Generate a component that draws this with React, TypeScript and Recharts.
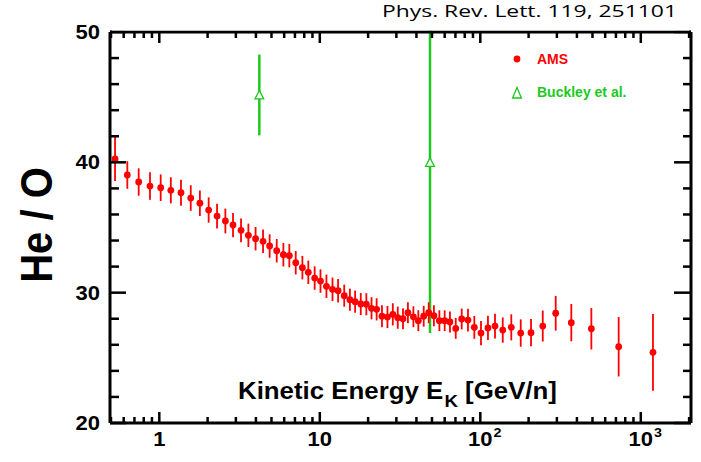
import React from "react";
import {
  ScatterChart,
  Scatter,
  XAxis,
  YAxis,
  ErrorBar,
  Customized,
} from "recharts";

// AMS He/O ratio vs kinetic energy per nucleon
const AMS_ENERGY = [
  0.53, 0.632, 0.744, 0.875, 1.02, 1.18, 1.365, 1.57, 1.79, 2.03, 2.29, 2.58,
  2.88, 3.23, 3.59, 3.98, 4.43, 4.87, 5.39, 5.93, 6.46, 7.08, 7.79, 8.48, 9.29,
  10.1, 11.0, 12.0, 13.0, 14.2, 15.4, 16.6, 18.0, 19.5, 21.0, 22.6, 24.4, 26.4,
  28.5, 30.6, 33.0, 35.4, 38.3, 41.1, 44.4, 47.7, 51.4, 55.6, 60.0, 64.7, 70.3,
  76.6, 83.8, 91.8, 101, 111.6, 123.5, 138, 156, 178.6, 207, 245, 295, 369, 492,
  728, 1191,
];
const AMS_RATIO = [
  40.26, 39.03, 38.49, 38.18, 38.05, 37.85, 37.67, 37.26, 36.86, 36.34, 35.88,
  35.5, 35.19, 34.78, 34.4, 34.14, 33.94, 33.58, 33.22, 32.91, 32.84, 32.3,
  31.92, 31.56, 31.12, 30.89, 30.49, 30.26, 30.15, 29.77, 29.46, 29.31, 29.13,
  29.11, 28.8, 28.72, 28.19, 28.13, 28.34, 28.08, 28.0, 28.46, 28.15, 27.85,
  28.19, 28.46, 28.23, 27.85, 27.85, 27.75, 27.26, 27.98, 27.9, 27.34, 26.9,
  27.29, 27.44, 27.13, 27.34, 26.9, 26.93, 27.44, 28.42, 27.7, 27.23, 25.85,
  25.42,
];
const AMS_ERR = [
  1.69, 1.06, 1.05, 1.06, 1.02, 1.0, 1.0, 0.98, 0.98, 0.97, 0.95, 0.95, 0.93,
  0.91, 0.9, 0.9, 0.9, 0.9, 0.9, 0.9, 0.9, 0.9, 0.9, 0.9, 0.9, 0.9, 0.9, 0.9,
  0.9, 0.85, 0.85, 0.85, 0.85, 0.85, 0.85, 0.85, 0.85, 0.85, 0.85, 0.85, 0.8,
  0.8, 0.8, 0.8, 0.8, 0.8, 0.8, 0.8, 0.8, 0.8, 0.8, 0.8, 0.87, 0.88, 0.93, 0.93,
  0.95, 0.97, 1.0, 1.05, 1.05, 1.19, 1.33, 1.43, 1.59, 2.28, 2.95,
];

// Buckley et al.
const BUCKLEY_ENERGY = [4.2, 48.6];
const BUCKLEY_RATIO = [45.17, 40.0];
const BUCKLEY_ERR = [3.1, 13.1];

const X_DOMAIN = [0.493, 2055];
const X_MAJOR = [1, 10, 100, 1000];
const X_MAJOR_LABELS = [
  { base: "1", exp: "" },
  { base: "10", exp: "" },
  { base: "10", exp: "2" },
  { base: "10", exp: "3" },
];
const X_TICKS = [
  0.5, 0.6, 0.7, 0.8, 0.9, 1, 2, 3, 4, 5, 6, 7, 8, 9, 10, 20, 30, 40, 50, 60,
  70, 80, 90, 100, 200, 300, 400, 500, 600, 700, 800, 900, 1000, 2000,
];
const Y_DOMAIN = [20, 50];
const Y_TICKS = [20, 22, 24, 26, 28, 30, 32, 34, 36, 38, 40, 42, 44, 46, 48, 50];
const Y_MAJOR = [20, 30, 40, 50];

const W = 701;
const H = 462;
const P = { left: 110, right: 691, top: 32, bottom: 423 };
const FONT = '"Liberation Sans", Arial, Helvetica, sans-serif';
const RED = "#ff0000";
const GREEN = "#1ec81e";

const amsData = AMS_ENERGY.map((e, i) => ({ x: e, y: AMS_RATIO[i], err: AMS_ERR[i] }));
const buckleyData = BUCKLEY_ENERGY.map((e, i) => ({ x: e, y: BUCKLEY_RATIO[i], err: BUCKLEY_ERR[i] }));

function XTickBottom(props: any) {
  const { x, payload } = props;
  const idx = X_MAJOR.indexOf(payload.value);
  const len = idx >= 0 ? 11 : 6;
  return (
    <g>
      <line x1={x} x2={x} y1={P.bottom} y2={P.bottom - len} stroke="#000" strokeWidth={2.5} />
      {idx >= 0 && (
        <g transform={`translate(${x},446) scale(1.1,1)`}>
          <text x={0} y={0} textAnchor="middle" fontFamily={FONT} fontWeight="bold" fontSize={20} fill="#000">
            {X_MAJOR_LABELS[idx].base}
          </text>
          {X_MAJOR_LABELS[idx].exp && (
            <text x={12} y={-9} textAnchor="start" fontFamily={FONT} fontWeight="bold" fontSize={13} fill="#000">
              {X_MAJOR_LABELS[idx].exp}
            </text>
          )}
        </g>
      )}
    </g>
  );
}

function XTickTop(props: any) {
  const { x, payload } = props;
  const len = X_MAJOR.includes(payload.value) ? 11 : 6;
  return <line x1={x} x2={x} y1={P.top} y2={P.top + len} stroke="#000" strokeWidth={2.5} />;
}

function YTickLeft(props: any) {
  const { y, payload } = props;
  const major = Y_MAJOR.includes(payload.value);
  return (
    <g>
      <line x1={P.left} x2={P.left + (major ? 16 : 9)} y1={y} y2={y} stroke="#000" strokeWidth={2.5} />
      {major && (
        <text
          transform={`translate(100,${y + 7}) scale(1.1,1)`}
          textAnchor="end"
          fontFamily={FONT}
          fontWeight="bold"
          fontSize={20}
          fill="#000"
        >
          {payload.value}
        </text>
      )}
    </g>
  );
}

function YTickRight(props: any) {
  const { y, payload } = props;
  const major = Y_MAJOR.includes(payload.value);
  return <line x1={P.right} x2={P.right - (major ? 17 : 8)} y1={y} y2={y} stroke="#000" strokeWidth={2.5} />;
}

function Overlay() {
  return (
    <g>
      <text
        transform="translate(52,225) rotate(-90) scale(1,1.1)"
        textAnchor="middle"
        fontFamily={FONT}
        fontWeight="bold"
        fontSize={40}
        fill="#000"
      >
        He / O
      </text>
      <text
        transform="translate(238,399) scale(1.1,1)"
        fontFamily={FONT}
        fontWeight="bold"
        fontSize={23.5}
        fill="#000"
      >
        <tspan>Kinetic Energy E</tspan>
        <tspan dx={1} dy={8} fontSize={17}>K</tspan>
        <tspan dy={-8}> [GeV/n]</tspan>
      </text>
      <circle cx={517} cy={59} r={3.4} fill={RED} />
      <text x={537} y={64} fontFamily={FONT} fontWeight="bold" fontSize={14} fill={RED}>
        AMS
      </text>
      <polygon points="517,87.5 512.6,98 521.4,98" fill="#fff" stroke={GREEN} strokeWidth={1.3} />
      <text x={537} y={97} fontFamily={FONT} fontWeight="bold" fontSize={14} fill={GREEN}>
        Buckley et al.
      </text>
    </g>
  );
}

export default function App() {
  const frame = { stroke: "#000", strokeWidth: 3 };
  return (
    <div style={{ position: "absolute", left: 0, top: 0, width: W, height: H, background: "#fff" }}>
      <ScatterChart width={W} height={H} margin={{ top: 0, right: 0, bottom: 0, left: 0 }}>
        <XAxis
          xAxisId="bottom"
          dataKey="x"
          type="number"
          scale="log"
          domain={X_DOMAIN}
          allowDataOverflow
          ticks={X_TICKS}
          interval={0}
          tick={(p: any) => <XTickBottom {...p} />}
          tickLine={false}
          axisLine={frame}
          height={H - P.bottom}
        />
        <XAxis
          xAxisId="top"
          orientation="top"
          dataKey="x"
          type="number"
          scale="log"
          domain={X_DOMAIN}
          allowDataOverflow
          ticks={X_TICKS}
          interval={0}
          tick={(p: any) => <XTickTop {...p} />}
          tickLine={false}
          axisLine={frame}
          height={P.top}
        />
        <YAxis
          yAxisId="left"
          dataKey="y"
          type="number"
          domain={Y_DOMAIN}
          allowDataOverflow
          ticks={Y_TICKS}
          interval={0}
          tick={(p: any) => <YTickLeft {...p} />}
          tickLine={false}
          axisLine={frame}
          width={P.left}
        />
        <YAxis
          yAxisId="right"
          orientation="right"
          dataKey="y"
          type="number"
          domain={Y_DOMAIN}
          allowDataOverflow
          ticks={Y_TICKS}
          interval={0}
          tick={(p: any) => <YTickRight {...p} />}
          tickLine={false}
          axisLine={frame}
          width={W - P.right}
        />
        <Scatter
          name="Buckley et al."
          data={buckleyData}
          xAxisId="bottom"
          yAxisId="left"
          isAnimationActive={false}
          shape={(p: any) => (
            <polygon
              points={`${p.cx},${p.cy - 4.5} ${p.cx - 4.4},${p.cy + 4} ${p.cx + 4.4},${p.cy + 4}`}
              fill="#fff"
              stroke={GREEN}
              strokeWidth={1.3}
            />
          )}
        >
          <ErrorBar dataKey="err" direction="y" width={0} stroke={GREEN} strokeWidth={2.5} isAnimationActive={false} />
        </Scatter>
        <Scatter
          name="AMS"
          data={amsData}
          xAxisId="bottom"
          yAxisId="left"
          isAnimationActive={false}
          shape={(p: any) => <circle cx={p.cx} cy={p.cy} r={3.4} fill={RED} />}
        >
          <ErrorBar dataKey="err" direction="y" width={0} stroke={RED} strokeWidth={1.8} isAnimationActive={false} />
        </Scatter>
        <Customized component={Overlay} />
      </ScatterChart>
      {/* title strip above the frame: hides error bar overflow past the top edge */}
      <svg
        width={W}
        height={P.top - 1.5}
        style={{ position: "absolute", left: 0, top: 0, pointerEvents: "none" }}
      >
        <rect x={P.left + 2} y={0} width={P.right - P.left - 4} height={P.top - 1.5} fill="#fff" />
        <text
          x={382}
          y={17}
          fontFamily='"Open Sans", "Noto Sans", sans-serif'
          fontSize={15.5}
          textLength={295}
          lengthAdjust="spacingAndGlyphs"
          fill="#000"
        >
          Phys. Rev. Lett. 119, 251101
        </text>
      </svg>
    </div>
  );
}
